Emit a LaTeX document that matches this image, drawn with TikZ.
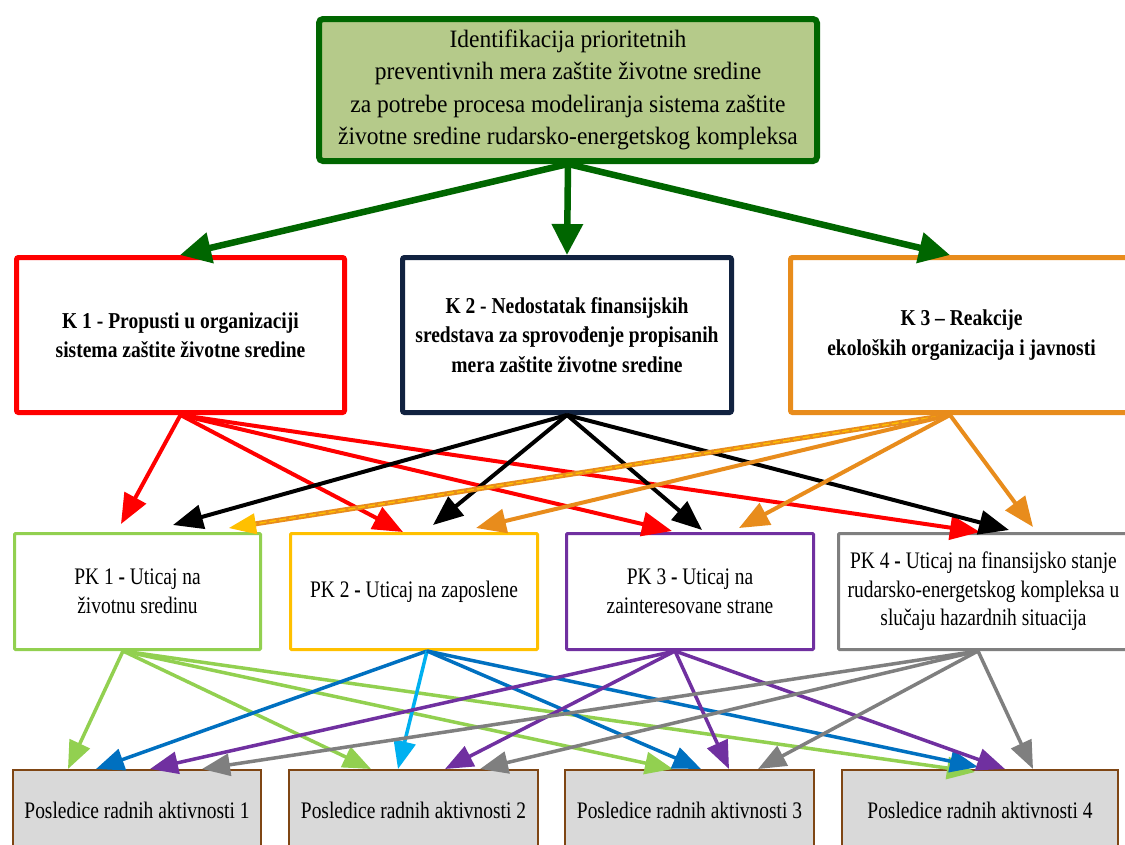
\documentclass[tikz,border=0pt]{standalone}
\usepackage{fontspec}
\setmainfont{Liberation Serif}
\newfontfamily\topfont{Liberation Serif}[FakeStretch=0.94]
\newfontfamily\kfont{Liberation Serif}[FakeStretch=0.86]
\newfontfamily\condfont{Liberation Serif}[FakeStretch=0.82]
\usetikzlibrary{arrows.meta}
\definecolor{topfill}{RGB}{181,202,138}
\definecolor{dkgreen}{RGB}{0,102,0}
\definecolor{kone}{RGB}{255,0,0}
\definecolor{ktwo}{RGB}{17,34,64}
\definecolor{kthree}{RGB}{232,140,28}
\definecolor{pkone}{RGB}{146,208,80}
\definecolor{pktwo}{RGB}{255,192,0}
\definecolor{pkthree}{RGB}{112,48,160}
\definecolor{pkfour}{RGB}{127,127,127}
\definecolor{arblue}{RGB}{0,112,192}
\definecolor{arcyan}{RGB}{0,176,240}
\definecolor{pfill}{RGB}{217,217,217}
\definecolor{pborder}{RGB}{127,70,20}
\tikzset{
  basebox/.style={rectangle, anchor=north west, inner sep=0pt, align=center},
  topbox/.style={basebox, draw=dkgreen, fill=topfill, line width=6pt, rounded corners=4pt,
    font=\topfont\fontsize{25}{32.5}\selectfont},
  kbox/.style={basebox, fill=white, line width=5pt, rounded corners=2pt,
    font=\kfont\bfseries\fontsize{22.7}{29.5}\selectfont},
  pkbox/.style={basebox, fill=white, line width=3pt, rounded corners=1pt,
    font=\condfont\fontsize{23.7}{28.5}\selectfont},
  pbox/.style={basebox, fill=pfill, draw=pborder, line width=2pt,
    font=\condfont\fontsize{23.7}{28}\selectfont},
  bigarr/.style={dkgreen, line width=6.5pt, -{Triangle[length=31pt,width=30pt]}},
  midarr/.style={line width=4pt, -{Triangle[length=30pt,width=24pt]}},
  lowarr/.style={line width=3.5pt, -{Triangle[length=28pt,width=22pt]}},
}
\begin{document}
\begin{tikzpicture}[x=1pt,y=-1pt]
\useasboundingbox (0,0) rectangle (1125,844);
\fill[white] (0,0) rectangle (1125,844);

% nodes
\node[topbox, minimum width=498pt, minimum height=142pt] (top) at (316,16)
  {Identifikacija prioritetnih\\preventivnih mera zaštite životne sredine\\za potrebe procesa modeliranja sistema zaštite\\životne sredine rudarsko-energetskog kompleksa};

\node[kbox, draw=kone, minimum width=328pt, minimum height=155pt] (k1) at (14,255)
  {K 1 - Propusti u organizaciji\\sistema zaštite životne sredine};
\node[kbox, draw=ktwo, minimum width=329pt, minimum height=155pt] (k2) at (400,255)
  {K 2 - Nedostatak finansijskih\\sredstava za sprovođenje propisanih\\mera zaštite životne sredine};
\node[kbox, draw=kthree, minimum width=342pt, minimum height=155pt] (k3) at (788,255)
  {K 3 – Reakcije\\ekoloških organizacija i javnosti};

\node[pkbox, draw=pkone, minimum width=246pt, minimum height=116pt] (pk1) at (13,532)
  {PK 1 \textbf{-} Uticaj na\\životnu sredinu};
\node[pkbox, draw=pktwo, minimum width=247pt, minimum height=116pt] (pk2) at (289,532)
  {PK 2 \textbf{-} Uticaj na zaposlene};
\node[pkbox, draw=pkthree, minimum width=247pt, minimum height=116pt] (pk3) at (565,532)
  {PK 3 \textbf{-} Uticaj na\\zainteresovane strane};
\node[pkbox, draw=pkfour, minimum width=290pt, minimum height=116pt] (pk4) at (837,532)
  {PK 4 \textbf{-} Uticaj na finansijsko stanje\\rudarsko-energetskog kompleksa u\\slučaju hazardnih situacija};

\node[pbox, minimum width=248pt, minimum height=80pt] (p1) at (12,769) {Posledice radnih aktivnosti 1};
\node[pbox, minimum width=249pt, minimum height=80pt] (p2) at (288,769) {Posledice radnih aktivnosti 2};
\node[pbox, minimum width=249pt, minimum height=80pt] (p3) at (564,769) {Posledice radnih aktivnosti 3};
\node[pbox, minimum width=276pt, minimum height=80pt] (p4) at (841,769) {Posledice radnih aktivnosti 4};

% top level arrows
\draw[bigarr] (top.south) -- ([xshift=166pt]k1.north west);
\draw[bigarr] (top.south) -- (k2.north);
\draw[bigarr] (top.south) -- ([xshift=162pt]k3.north west);

% K1 arrows (red)
\draw[midarr, kone] (k1.south) -- ([xshift=108pt,yshift=8pt]pk1.north west);
\draw[midarr, kone] (k1.south) -- ([xshift=114pt]pk2.north west);
\draw[midarr, kone] (k1.south) -- ([xshift=107pt,yshift=1pt]pk3.north west);
\draw[midarr, kone] (k1.south) -- ([xshift=143pt]pk4.north west);

% K2 arrows (black)
\draw[midarr, black] (k2.south) -- ([xshift=160pt,yshift=7pt]pk1.north west);
\draw[midarr, black] (k2.south) -- ([xshift=144pt,yshift=7pt]pk2.north west);
\draw[midarr, black] (k2.south) -- ([xshift=137pt,yshift=2pt]pk3.north west);
\draw[midarr, black] (k2.south) -- ([xshift=172pt,yshift=2pt]pk4.north west);

% K3 arrows (orange)
\draw[kthree, line width=5pt, shorten >=22pt] ([xshift=160pt]k3.south west) -- ([xshift=216pt,yshift=4pt]pk1.north west);
\draw[pktwo, line width=1.4pt, dash pattern=on 7pt off 3pt, -{Triangle[length=27pt,width=21pt]}] ([xshift=160pt]k3.south west) -- ([xshift=216pt,yshift=4pt]pk1.north west);
\draw[midarr, kthree] ([xshift=162pt]k3.south west) -- ([xshift=187pt,yshift=4pt]pk2.north west);
\draw[midarr, kthree] ([xshift=162pt]k3.south west) -- ([xshift=174pt,yshift=4pt]pk3.north west);
\draw[midarr, kthree] ([xshift=162pt]k3.south west) -- ([xshift=196pt,yshift=5pt]pk4.north west);

% PK1 arrows (light green)
\draw[lowarr, pkone] ([xshift=110pt]pk1.south west) -- ([xshift=56pt]p1.north west);
\draw[lowarr, pkone] ([xshift=110pt]pk1.south west) -- ([xshift=83pt]p2.north west);
\draw[lowarr, pkone] ([xshift=110pt]pk1.south west) -- ([xshift=109pt]p3.north west);
\draw[lowarr, pkone] ([xshift=110pt]pk1.south west) -- ([xshift=134pt,yshift=-3pt]p4.north west);

% PK2 arrows (blue, cyan)
\draw[lowarr, arblue] ([xshift=138pt]pk2.south west) -- ([xshift=84pt]p1.north west);
\draw[lowarr, arcyan] ([xshift=138pt]pk2.south west) -- ([xshift=110pt]p2.north west);
\draw[lowarr, arblue] ([xshift=138pt]pk2.south west) -- ([xshift=137pt]p3.north west);
\draw[lowarr, arblue] ([xshift=138pt]pk2.south west) -- ([xshift=137pt,yshift=2pt]p4.north west);

% PK3 arrows (purple)
\draw[lowarr, pkthree] ([xshift=110pt]pk3.south west) -- ([xshift=138pt]p1.north west);
\draw[lowarr, pkthree] ([xshift=110pt]pk3.south west) -- ([xshift=157pt]p2.north west);
\draw[lowarr, pkthree] ([xshift=110pt]pk3.south west) -- ([xshift=165pt]p3.north west);
\draw[lowarr, pkthree] ([xshift=110pt]pk3.south west) -- ([xshift=164pt]p4.north west);

% PK4 arrows (gray)
\draw[lowarr, pkfour] ([xshift=141pt]pk4.south west) -- ([xshift=190pt]p1.north west);
\draw[lowarr, pkfour] ([xshift=141pt]pk4.south west) -- ([xshift=192pt]p2.north west);
\draw[lowarr, pkfour] ([xshift=141pt]pk4.south west) -- ([xshift=194pt]p3.north west);
\draw[lowarr, pkfour] ([xshift=141pt]pk4.south west) -- ([xshift=192pt]p4.north west);
\end{tikzpicture}
\end{document}
